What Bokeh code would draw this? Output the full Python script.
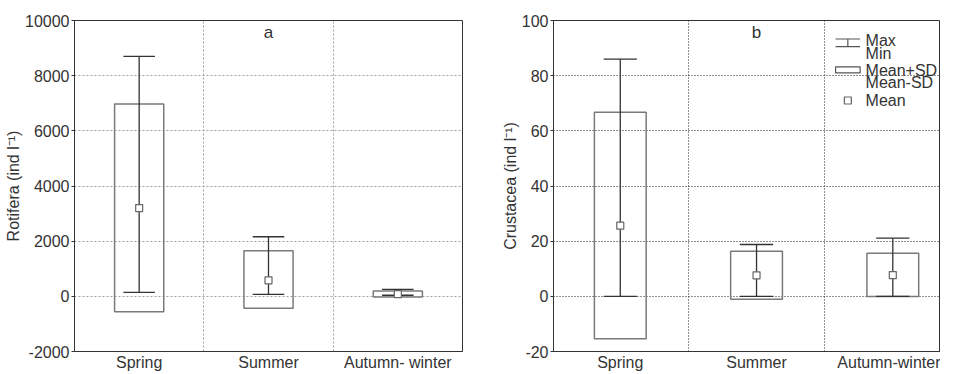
from bokeh.plotting import figure
from bokeh.models import Range1d, FixedTicker, Label, ColumnDataSource
from bokeh.layouts import row
from bokeh.embed import file_html
from bokeh.resources import INLINE

# ---- data ----
seasons_a = ["Spring", "Summer", "Autumn- winter"]
rot_max = [8700, 2160, 250]
rot_min = [140, 70, 40]
rot_sd_hi = [6970, 1650, 190]
rot_sd_lo = [-560, -430, -20]
rot_mean = [3200, 580, 80]

seasons_b = ["Spring", "Summer", "Autumn-winter"]
cru_max = [86, 18.8, 21.1]
cru_min = [0, 0, 0]
cru_sd_hi = [66.7, 16.3, 15.6]
cru_sd_lo = [-15.4, -1.1, -0.1]
cru_mean = [25.6, 7.6, 7.7]

rot_ticks = [-2000, 0, 2000, 4000, 6000, 8000, 10000]
cru_ticks = [-20, 0, 20, 40, 60, 80, 100]

FONT = "Liberation Sans"
TXT = "#333333"
BOX_HALF = 0.19
CAP_HALF = 0.122


def make_panel(seasons, vmax, vmin, hi, lo, mean, ticks, ylabel, letter,
               xr, width, bl, br, grid_color, grid_dash):
    p = figure(width=width, height=373, output_backend="svg", toolbar_location=None,
               x_range=Range1d(*xr), y_range=Range1d(ticks[0], ticks[-1]),
               min_border_left=bl, min_border_right=br, min_border_top=20,
               min_border_bottom=10)
    xs = list(range(len(seasons)))
    src = ColumnDataSource(dict(
        x=xs, vmax=vmax, vmin=vmin, hi=hi, lo=lo, mean=mean,
        left=[x - BOX_HALF for x in xs], right=[x + BOX_HALF for x in xs],
        cl=[x - CAP_HALF for x in xs], cr=[x + CAP_HALF for x in xs]))
    p.quad(left="left", right="right", bottom="lo", top="hi", source=src,
           fill_color=None, line_color="#7a7a7a", line_width=1.5)
    p.segment(x0="x", x1="x", y0="vmin", y1="vmax", source=src,
              line_color="#333333", line_width=1.3)
    p.segment(x0="cl", x1="cr", y0="vmax", y1="vmax", source=src,
              line_color="#333333", line_width=1.3)
    p.segment(x0="cl", x1="cr", y0="vmin", y1="vmin", source=src,
              line_color="#333333", line_width=1.3)
    p.scatter(x="x", y="mean", source=src, marker="square", size=7,
              fill_color="white", line_color="#666666", line_width=1.2)

    p.xaxis.ticker = FixedTicker(ticks=xs)
    p.xaxis.major_label_overrides = {i: s for i, s in enumerate(seasons)}
    p.xaxis.major_tick_line_color = None
    p.xaxis.minor_tick_line_color = None
    p.xaxis.major_label_standoff = -4
    p.yaxis.ticker = FixedTicker(ticks=ticks)
    p.yaxis.major_label_overrides = {t: str(t) for t in ticks}
    p.yaxis.minor_tick_line_color = None
    p.yaxis.major_tick_in = 0
    p.yaxis.major_tick_out = 3
    p.yaxis.major_tick_line_color = "#333333"
    p.yaxis.major_label_standoff = 2
    p.yaxis.axis_label = ylabel
    p.yaxis.axis_label_standoff = 0
    for ax in (p.xaxis[0], p.yaxis[0]):
        ax.major_label_text_font = FONT
        ax.major_label_text_font_size = "16px"
        ax.major_label_text_color = TXT
        ax.axis_line_color = "#333333"
    p.yaxis.axis_label_text_font = FONT
    p.yaxis.axis_label_text_font_size = "16px"
    p.yaxis.axis_label_text_font_style = "normal"
    p.yaxis.axis_label_text_color = TXT

    p.xgrid.ticker = FixedTicker(ticks=[0.5, 1.5])
    p.ygrid.ticker = FixedTicker(ticks=ticks[1:-1])
    for g in (p.xgrid[0], p.ygrid[0]):
        g.grid_line_color = grid_color
        g.grid_line_dash = grid_dash
        g.grid_line_width = 1
    p.outline_line_color = "#333333"
    p.background_fill_color = "white"
    p.border_fill_color = "white"

    rng = ticks[-1] - ticks[0]
    p.add_layout(Label(x=1, y=ticks[-1] - 0.035 * rng, text=letter,
                       text_font=FONT, text_font_size="17px", text_color=TXT,
                       text_align="center", text_baseline="middle"))
    return p


pa = make_panel(seasons_a, rot_max, rot_min, rot_sd_hi, rot_sd_lo, rot_mean,
                rot_ticks, "Rotifera (ind l\u207b\u00b9)", "a",
                (-0.5, 2.5), 482, 74, 20, "#a0a0a0", "2 2")
pb = make_panel(seasons_b, cru_max, cru_min, cru_sd_hi, cru_sd_lo, cru_mean,
                cru_ticks, "Crustacea (ind l\u207b\u00b9)", "b",
                (-0.49, 2.35), 458, 71, 0, "#222222", "1 2")

# ---- legend drawn in panel b (layout positions in data units) ----
LX0, LX1, LXM, LTX = 1.58, 1.76, 1.67, 1.80
pb.segment(x0=[LX0, LX0, LXM], x1=[LX1, LX1, LXM], y0=[93.3, 90.5, 93.3],
           y1=[93.3, 90.5, 90.5], line_color="#555555", line_width=1.2)
pb.quad(left=[LX0], right=[LX1], bottom=[81.0], top=[83.2], fill_color=None,
        line_color="#555555", line_width=1.2)
pb.scatter(x=[LXM], y=[71.0], marker="square", size=7, fill_color="white",
           line_color="#666666", line_width=1.2)
for txt, yy in [("Max", 92.6), ("Min", 88.0), ("Mean+SD", 82.0),
                ("Mean-SD", 77.4), ("Mean", 71.0)]:
    pb.add_layout(Label(x=LTX, y=yy, text=txt, text_font=FONT,
                        text_font_size="16px", text_color=TXT,
                        text_baseline="middle", text_align="left"))

layout = row(pa, pb)
open("out.html", "w").write(file_html(layout, INLINE))
